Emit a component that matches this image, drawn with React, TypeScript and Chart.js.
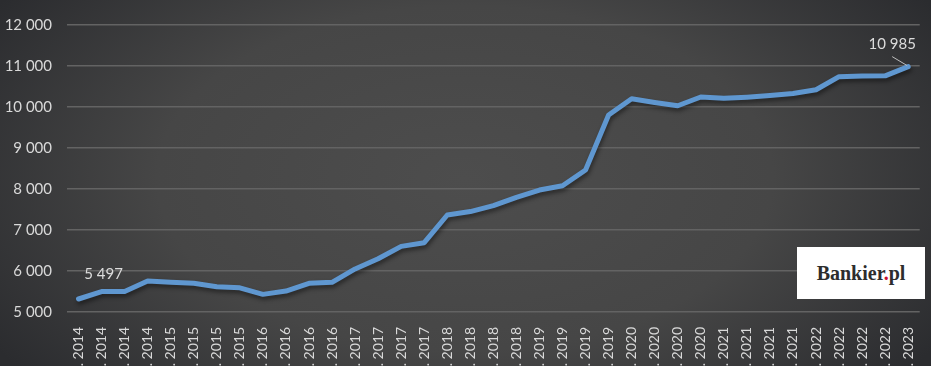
import React, { useEffect, useRef } from "react";
import { Chart, registerables } from "chart.js";

Chart.register(...registerables);

const years = ["2014", "2015", "2016", "2017", "2018", "2019", "2020", "2021", "2022", "2023"];
const quarters = ["I", "II", "III", "IV"];
const categories: string[] = [];
years.forEach((y) => {
  quarters.forEach((q) => {
    if (y === "2023" && q !== "I") return;
    categories.push(q + " kw. " + y);
  });
});

const values = [
  5317, 5497, 5500, 5756, 5724, 5700, 5617, 5590, 5430, 5510, 5700, 5724,
  6050, 6300, 6600, 6690, 7366, 7450, 7593, 7797, 7975, 8080, 8463, 9805,
  10200, 10110, 10030, 10244, 10212, 10240, 10280, 10330, 10420, 10740, 10756, 10760, 10985,
];

const labelledIndices = [1, 36];
const yMin = 5000;
const yMax = 12000;
const yStep = 1000;

const fmt = (n: number) => String(n).replace(/\B(?=(\d{3})+(?!\d))/g, " ");

const VW = 931;
const VH = 366;
const W = 940;
const H = 420;

const bgPlugin = {
  id: "bgGradient",
  beforeDraw(chart: any) {
    const { ctx } = chart;
    ctx.save();
    ctx.translate(465, 178);
    ctx.scale(1, 0.56);
    const g = ctx.createRadialGradient(0, 0, 0, 0, 0, 560);
    g.addColorStop(0, "#4d4d4d");
    g.addColorStop(0.55, "#464646");
    g.addColorStop(1, "#2b2c2f");
    ctx.fillStyle = g;
    ctx.fillRect(-2000, -2000, 4000, 4000);
    ctx.restore();
  },
};

const shadowPlugin = {
  id: "lineShadow",
  beforeDatasetDraw(chart: any) {
    const ctx = chart.ctx;
    ctx.save();
    ctx.shadowColor = "rgba(0,0,0,0.45)";
    ctx.shadowBlur = 4;
    ctx.shadowOffsetX = 1;
    ctx.shadowOffsetY = 3;
  },
  afterDatasetDraw(chart: any) {
    chart.ctx.restore();
  },
};

const labelPlugin = {
  id: "valueLabels",
  afterDatasetsDraw(chart: any) {
    const ctx = chart.ctx;
    const meta = chart.getDatasetMeta(0);
    ctx.save();
    ctx.font = "15px Lato, 'Open Sans', sans-serif";
    ctx.fillStyle = "#dcdcdc";
    ctx.textAlign = "center";
    ctx.textBaseline = "middle";
    labelledIndices.forEach((i) => {
      const p = meta.data[i];
      const v = values[i];
      if (i === values.length - 1) {
        ctx.fillText(fmt(v), p.x - 16, p.y - 22);
        ctx.strokeStyle = "#bfbfbf";
        ctx.lineWidth = 1;
        ctx.beginPath();
        ctx.moveTo(p.x - 16, p.y - 10);
        ctx.lineTo(p.x - 1, p.y - 1);
        ctx.stroke();
      } else {
        ctx.fillText(fmt(v), p.x + 2, p.y - 17);
      }
    });
    ctx.restore();
  },
};

export default function App() {
  const ref = useRef<HTMLCanvasElement | null>(null);

  useEffect(() => {
    if (!ref.current) return;
    const chart = new Chart(ref.current, {
      type: "line",
      data: {
        labels: categories,
        datasets: [
          {
            data: values,
            borderColor: "#5f97d0",
            borderWidth: 5,
            pointRadius: 0,
            tension: 0,
            borderCapStyle: "round",
            borderJoinStyle: "round",
          },
        ],
      },
      options: {
        animation: false,
        responsive: false,
        maintainAspectRatio: false,
        layout: { padding: { top: 25, left: 0, right: 0, bottom: 0 } },
        plugins: {
          legend: { display: false },
          tooltip: { enabled: false },
          title: { display: false },
        },
        scales: {
          x: {
            type: "category",
            offset: true,
            grid: { display: false, drawTicks: false },
            border: { display: false },
            ticks: {
              color: "#d9d9d9",
              font: { family: "Lato, 'Open Sans', sans-serif", size: 14 },
              minRotation: 90,
              maxRotation: 90,
              autoSkip: false,
              padding: 15,
            },
            afterFit: (axis: any) => {
              axis.height = H - 312;
            },
          },
          y: {
            min: yMin,
            max: yMax,
            grid: { color: "#636363", lineWidth: 1.5, drawTicks: false },
            border: { display: false },
            ticks: {
              stepSize: yStep,
              color: "#d9d9d9",
              font: { family: "Lato, 'Open Sans', sans-serif", size: 15 },
              padding: 15,
              callback: (v: any) => fmt(Number(v)),
            },
            afterFit: (axis: any) => {
              axis.width = 67;
            },
          },
        },
      },
      plugins: [bgPlugin, shadowPlugin, labelPlugin],
    });
    return () => chart.destroy();
  }, []);

  return (
    <div
      style={{
        position: "fixed",
        left: 0,
        top: 0,
        width: VW,
        height: VH,
        overflow: "hidden",
        background: "#2c2d30",
      }}
    >
      <canvas ref={ref} width={W} height={H} style={{ display: "block" }} />
      <div
        style={{
          position: "absolute",
          left: 797,
          top: 247,
          width: 128,
          height: 52,
          background: "#ffffff",
          display: "flex",
          alignItems: "center",
          justifyContent: "center",
          paddingTop: 1,
          boxSizing: "border-box",
          fontFamily: "'Liberation Serif', 'DejaVu Serif', serif",
          fontWeight: "bold",
          fontSize: 20,
          color: "#2d2d2d",
        }}
      >
        <span>
          Bankier<span style={{ color: "#c8102e" }}>.</span>pl
        </span>
      </div>
    </div>
  );
}
